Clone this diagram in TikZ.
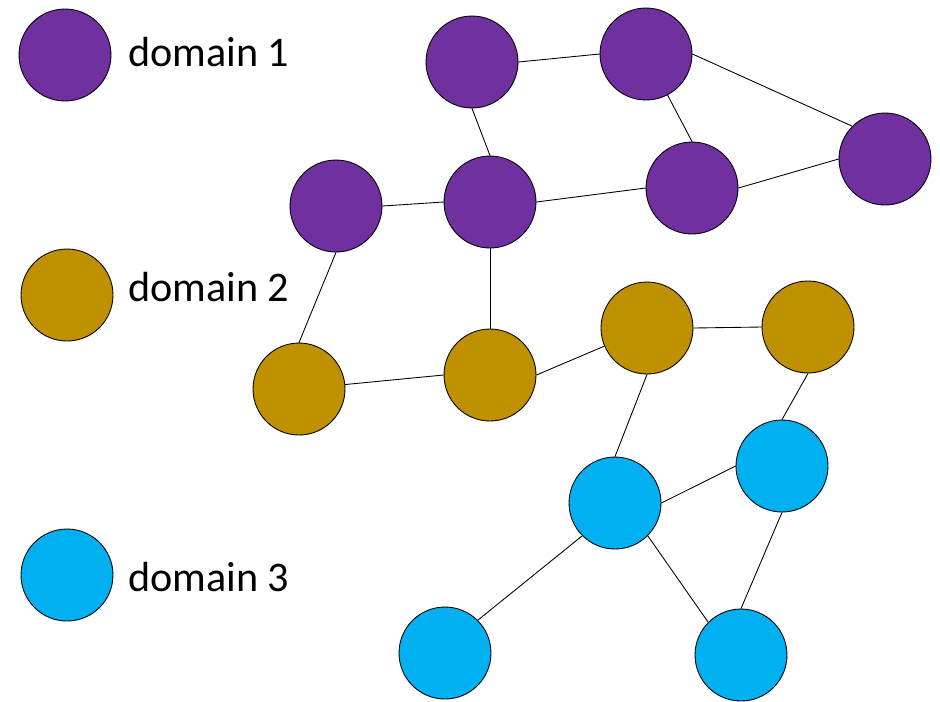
\documentclass[tikz,border=0pt]{standalone}
\usepackage{fontspec}
\setmainfont{Carlito}
\definecolor{dompurple}{HTML}{7030A0}
\definecolor{domgold}{HTML}{BF9000}
\definecolor{domblue}{HTML}{00B0F0}
\begin{document}
\begin{tikzpicture}[
    x={(0.02cm,0cm)},
    y={(0cm,-0.02cm)},
    line cap=round,
    line join=round,
    vertex/.style={
        circle,
        draw=black,
        line width=0.5pt,
        inner sep=0pt,
        minimum size=1.84cm
    },
    purple/.style={vertex, fill=dompurple},
    gold/.style={vertex, fill=domgold},
    blue/.style={vertex, fill=domblue},
    legend/.style={
        anchor=west,
        inner sep=0pt,
        font=\fontsize{24}{28}\selectfont
    },
    edge/.style={line width=0.5pt}
]

% =========================================================
% Рамка рисунка
% =========================================================

\useasboundingbox (0,0) rectangle (940,701);

% =========================================================
% Легенда
% =========================================================

\node[purple] (L1) at (65,55) {};
\node[gold]   (L2) at (67,295) {};
\node[blue]   (L3) at (67,575) {};

\node[legend] (T1) at (128,52)  {domain 1};
\node[legend] (T2) at (128,287) {domain 2};
\node[legend] (T3) at (128,577) {domain 3};

% =========================================================
% Вершины домена 1
% =========================================================

\node[purple] (P1) at (472,62)  {};
\node[purple] (P2) at (646,54)  {};
\node[purple] (P3) at (885,159) {};
\node[purple] (P4) at (692,188) {};
\node[purple] (P5) at (490,202) {};
\node[purple] (P6) at (336,206) {};

% =========================================================
% Вершины домена 2
% =========================================================

\node[gold] (G1) at (299,389) {};
\node[gold] (G2) at (490,375) {};
\node[gold] (G3) at (647,328) {};
\node[gold] (G4) at (808,327) {};

% =========================================================
% Вершины домена 3
% =========================================================

\node[blue] (B1) at (615,503) {};
\node[blue] (B2) at (782,466) {};
\node[blue] (B3) at (445,653) {};
\node[blue] (B4) at (741,655) {};

% =========================================================
% Рёбра
% =========================================================

\draw[edge] (P1.east)--(P2.west);
\draw[edge] (P1.south)--(P5.north);
\draw[edge] (P2)--(P4.north);
\draw[edge] (P2.east)--(P3.north west);
\draw[edge] (P4.east)--(P3.west);
\draw[edge] (P5.east)--(P4.west);
\draw[edge] (P6.east)--(P5.west);
\draw[edge] (P6.south)--(G1.north);
\draw[edge] (P5.south)--(G2.north);

\draw[edge] (G1)--(G2.west);
\draw[edge] (G2.east)--(G3);
\draw[edge] (G3.east)--(G4.west);
\draw[edge] (G3.south)--(B1.north);
\draw[edge] (G4.south)--(B2.north);

\draw[edge] (B1.east)--(B2.west);
\draw[edge] (B1.south west)--(B3.north east);
\draw[edge] (B1.south east)--(B4.north west);
\draw[edge] (B2.south)--(B4.north);

\end{tikzpicture}
\end{document}
